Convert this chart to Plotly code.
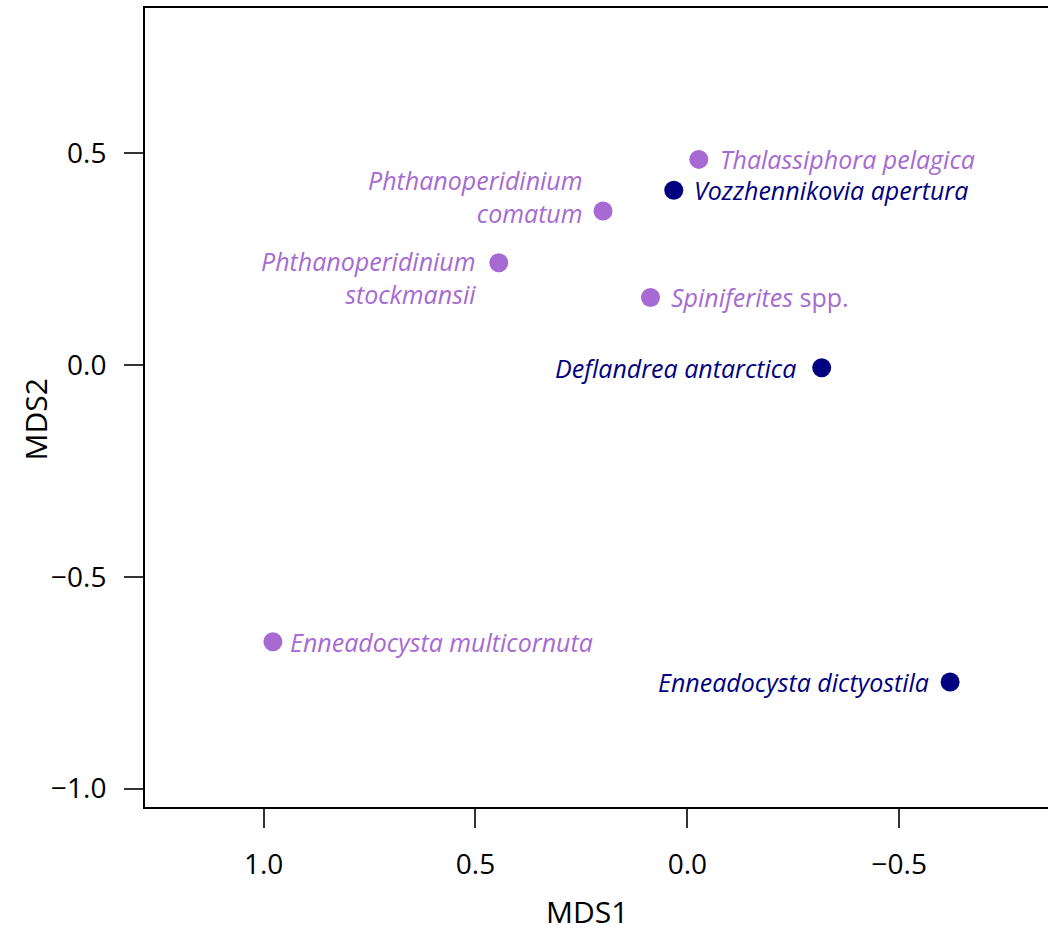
import plotly.graph_objects as go

# Data
species = [
    "Thalassiphora pelagica",
    "Vozzhennikovia apertura",
    "Phthanoperidinium comatum",
    "Phthanoperidinium stockmansii",
    "Spiniferites spp.",
    "Deflandrea antarctica",
    "Enneadocysta multicornuta",
    "Enneadocysta dictyostila",
]
mds1 = [-0.027, 0.032, 0.199, 0.445, 0.087, -0.317, 0.978, -0.620]
mds2 = [0.486, 0.413, 0.364, 0.242, 0.160, -0.006, -0.653, -0.748]
group = ["light", "dark", "light", "light", "light", "dark", "light", "dark"]
label_text = [
    "<i>Thalassiphora pelagica</i>",
    "<i>Vozzhennikovia apertura</i>",
    "<i>Phthanoperidinium<br>comatum</i>",
    "<i>Phthanoperidinium<br>stockmansii</i>",
    "<i>Spiniferites</i> spp.",
    "<i>Deflandrea antarctica</i>",
    "<i>Enneadocysta multicornuta</i>",
    "<i>Enneadocysta dictyostila</i>",
]
tick_vals = [-1.0, -0.5, 0.0, 0.5, 1.0]

# Styles
colors = {"light": "#A66AD2", "dark": "#000080"}
# label placement: (xanchor, xshift, yshift)
placement = [
    ("left", 19, 0),
    ("left", 18, 0),
    ("right", -18, 15),
    ("right", -21, -15),
    ("left", 19, 0),
    ("right", -24, 0),
    ("left", 15, 0),
    ("right", -19, 0),
]
FONT = "Open Sans"

fig = go.Figure()
for g in ["light", "dark"]:
    idx = [i for i, gg in enumerate(group) if gg == g]
    fig.add_trace(go.Scatter(
        x=[mds1[i] for i in idx],
        y=[mds2[i] for i in idx],
        mode="markers",
        marker=dict(size=19, color=colors[g], line=dict(width=0)),
        hovertext=[species[i] for i in idx],
        showlegend=False,
    ))

for i in range(len(species)):
    xa, xs, ys = placement[i]
    fig.add_annotation(
        x=mds1[i], y=mds2[i], xref="x", yref="y",
        text=label_text[i], showarrow=False,
        xanchor=xa, yanchor="middle", align=xa,
        xshift=xs, yshift=ys,
        font=dict(family=FONT, size=25, color=colors[group[i]]),
    )

# axis titles as annotations
fig.add_annotation(x=0.49, y=-0.131, xref="paper", yref="paper",
                   text="MDS1", showarrow=False, xanchor="center", yanchor="middle",
                   font=dict(family=FONT, size=30, color="black"))
fig.add_annotation(x=-0.1218, y=0.485, xref="paper", yref="paper",
                   text="MDS2", showarrow=False, xanchor="center", yanchor="middle",
                   textangle=-90,
                   font=dict(family=FONT, size=30, color="black"))

fig.update_layout(
    width=1048, height=935,
    margin=dict(l=145, r=0, t=8, b=128),
    paper_bgcolor="white", plot_bgcolor="white",
    font=dict(family=FONT, color="black"),
)
fig.update_xaxes(
    range=[1.2798, -0.851],
    tickvals=tick_vals, tickformat=".1f",
    showgrid=False, zeroline=False,
    showline=True, linecolor="black", linewidth=2, mirror=True,
    ticks="outside", ticklen=19, tickwidth=1.6, tickcolor="#333333",
    tickfont=dict(family=FONT, size=28, color="black"),
    ticklabelstandoff=12,
)
fig.update_yaxes(
    range=[-1.0434, 0.8435],
    tickvals=tick_vals, tickformat=".1f",
    showgrid=False, zeroline=False,
    showline=True, linecolor="black", linewidth=2, mirror=False,
    ticks="outside", ticklen=19, tickwidth=1.6, tickcolor="#333333",
    tickfont=dict(family=FONT, size=28, color="black"),
    ticklabelstandoff=12,
)

fig.write_html("out.html", config={"displayModeBar": False},
               post_script="document.body.style.margin='0';")
